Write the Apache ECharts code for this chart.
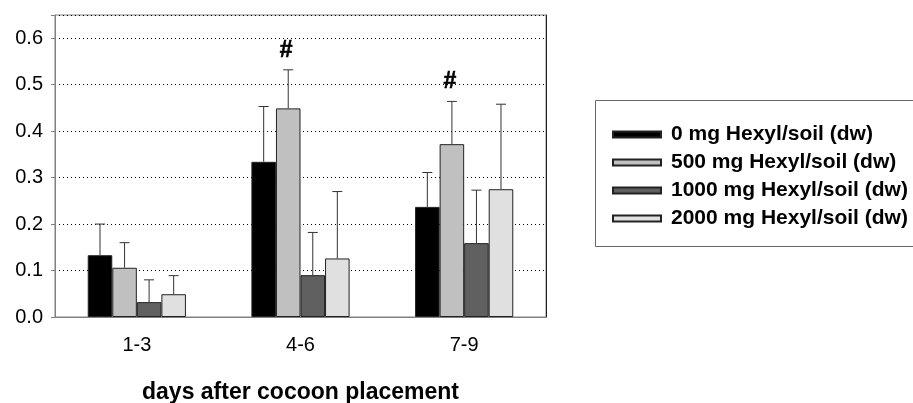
<!DOCTYPE html>
<html>
<head>
<meta charset="utf-8">
<script src="https://cdn.jsdelivr.net/npm/echarts@6/dist/echarts.min.js"></script>
<style>
html,body{margin:0;padding:0;background:#fff;}
#chart{width:913px;height:403px;}
</style>
</head>
<body>
<div id="chart"></div>
<script>
// ---- data ----
var categories = ['1-3', '4-6', '7-9'];
var seriesNames = ['0 mg Hexyl/soil (dw)', '500 mg Hexyl/soil (dw)', '1000 mg Hexyl/soil (dw)', '2000 mg Hexyl/soil (dw)'];
var mean0    = [0.133, 0.334, 0.237];
var mean500  = [0.106, 0.449, 0.372];
var mean1000 = [0.032, 0.090, 0.159];
var mean2000 = [0.049, 0.126, 0.275];
var sd0    = [0.067, 0.119, 0.074];
var sd500  = [0.054, 0.083, 0.092];
var sd1000 = [0.048, 0.092, 0.114];
var sd2000 = [0.040, 0.144, 0.183];
var marks500 = ['', '#', '#'];
var yTicks = [0, 0.1, 0.2, 0.3, 0.4, 0.5, 0.6];
var xTitle = 'days after cocoon placement';

var means = [mean0, mean500, mean1000, mean2000];
var sds = [sd0, sd500, sd1000, sd2000];
var marks = [['', '', ''], marks500, ['', '', ''], ['', '', '']];
var colors = ['#000000', '#c0c0c0', '#606060', '#e0e0e0'];
var FONT = 'Arial, "Liberation Sans", sans-serif';
var CAT_GAP = 0.4;

var chart = echarts.init(document.getElementById('chart'), null, {renderer: 'canvas'});

var series = [];
means.forEach(function (m, k) {
  series.push({
    name: seriesNames[k],
    type: 'bar',
    data: m,
    barGap: '0%',
    barCategoryGap: (CAT_GAP * 100) + '%',
    itemStyle: {color: colors[k], borderColor: '#222', borderWidth: 1},
    emphasis: {disabled: true},
    z: 2
  });
});
means.forEach(function (m, k) {
  series.push({
    name: 'err' + k,
    type: 'custom',
    data: m.map(function (v, i) { return [i, v, sds[k][i]]; }),
    z: 3,
    renderItem: function (params, api) {
      var idx = api.value(0);
      var mv = api.value(1);
      var sd = api.value(2);
      var mk = marks[k][idx];
      var band = api.size([1, 0])[0];
      var barW = band * (1 - CAT_GAP) / 4;
      var cx = api.coord([idx, 0])[0] + (k - 1.5) * barW;
      var yb = api.coord([idx, mv])[1];
      var yt = api.coord([idx, mv + sd])[1];
      var st = {stroke: '#333', lineWidth: 1};
      var children = [
        {type: 'line', shape: {x1: cx, y1: yb, x2: cx, y2: yt}, style: st},
        {type: 'line', shape: {x1: cx - 5, y1: yt, x2: cx + 5, y2: yt}, style: st}
      ];
      if (mk) {
        children.push({type: 'text', style: {text: mk, x: cx - 2, y: yt - 8, align: 'center', verticalAlign: 'bottom',
          fontSize: 23, fontWeight: 'bold', fontFamily: FONT, fill: '#000', stroke: '#000', lineWidth: 0.6}});
      }
      return {type: 'group', children: children};
    }
  });
});

var option = {
  animation: false,
  backgroundColor: '#fff',
  textStyle: {fontFamily: FONT},
  grid: {left: 55, top: 15, right: 367, bottom: 86, show: true, borderColor: '#808080', borderWidth: 1,
    outerBoundsMode: 'none', containLabel: false},
  legend: {
    data: seriesNames,
    orient: 'vertical',
    left: 607,
    top: 119,
    itemWidth: 48,
    itemHeight: 6,
    itemGap: 7,
    icon: 'rect',
    selectedMode: false,
    textStyle: {fontFamily: FONT, fontSize: 21, fontWeight: 'bold', color: '#000', lineHeight: 21, padding: [0, 0, 0, 5]}
  },
  graphic: [{
    type: 'rect', left: 593, top: 98, z: -1,
    shape: {width: 340, height: 146},
    style: {fill: 'none', stroke: '#666', lineWidth: 1}
  }],
  xAxis: {
    type: 'category',
    data: categories,
    axisLine: {lineStyle: {color: '#808080'}},
    axisTick: {alignWithLabel: true, length: 5, lineStyle: {color: '#808080'}},
    axisLabel: {fontSize: 20, color: '#000', margin: 18, fontFamily: FONT},
    name: xTitle,
    nameLocation: 'middle',
    nameGap: 64,
    nameTextStyle: {fontSize: 23, fontWeight: 'bold', color: '#000', fontFamily: FONT}
  },
  yAxis: [{
    type: 'value',
    min: 0,
    max: 0.65,
    interval: 0.1,
    axisLine: {show: true, lineStyle: {color: '#808080'}},
    axisTick: {show: true, length: 4, lineStyle: {color: '#808080'}},
    axisLabel: {fontSize: 20, color: '#000', margin: 12, fontFamily: FONT,
      formatter: function (v) { return yTicks.indexOf(Math.round(v * 10) / 10) >= 0 && v < 0.61 ? v.toFixed(1) : ''; }},
    splitLine: {show: true, lineStyle: {color: '#000', type: [1, 3], width: 1}}
  }, {
    type: 'value', position: 'right', min: 0, max: 0.65, interval: 0.1,
    axisLine: {show: true, lineStyle: {color: '#222'}},
    axisTick: {show: false}, axisLabel: {show: false}, splitLine: {show: false}
  }],
  series: series
};
chart.setOption(option);
</script>
</body>
</html>
